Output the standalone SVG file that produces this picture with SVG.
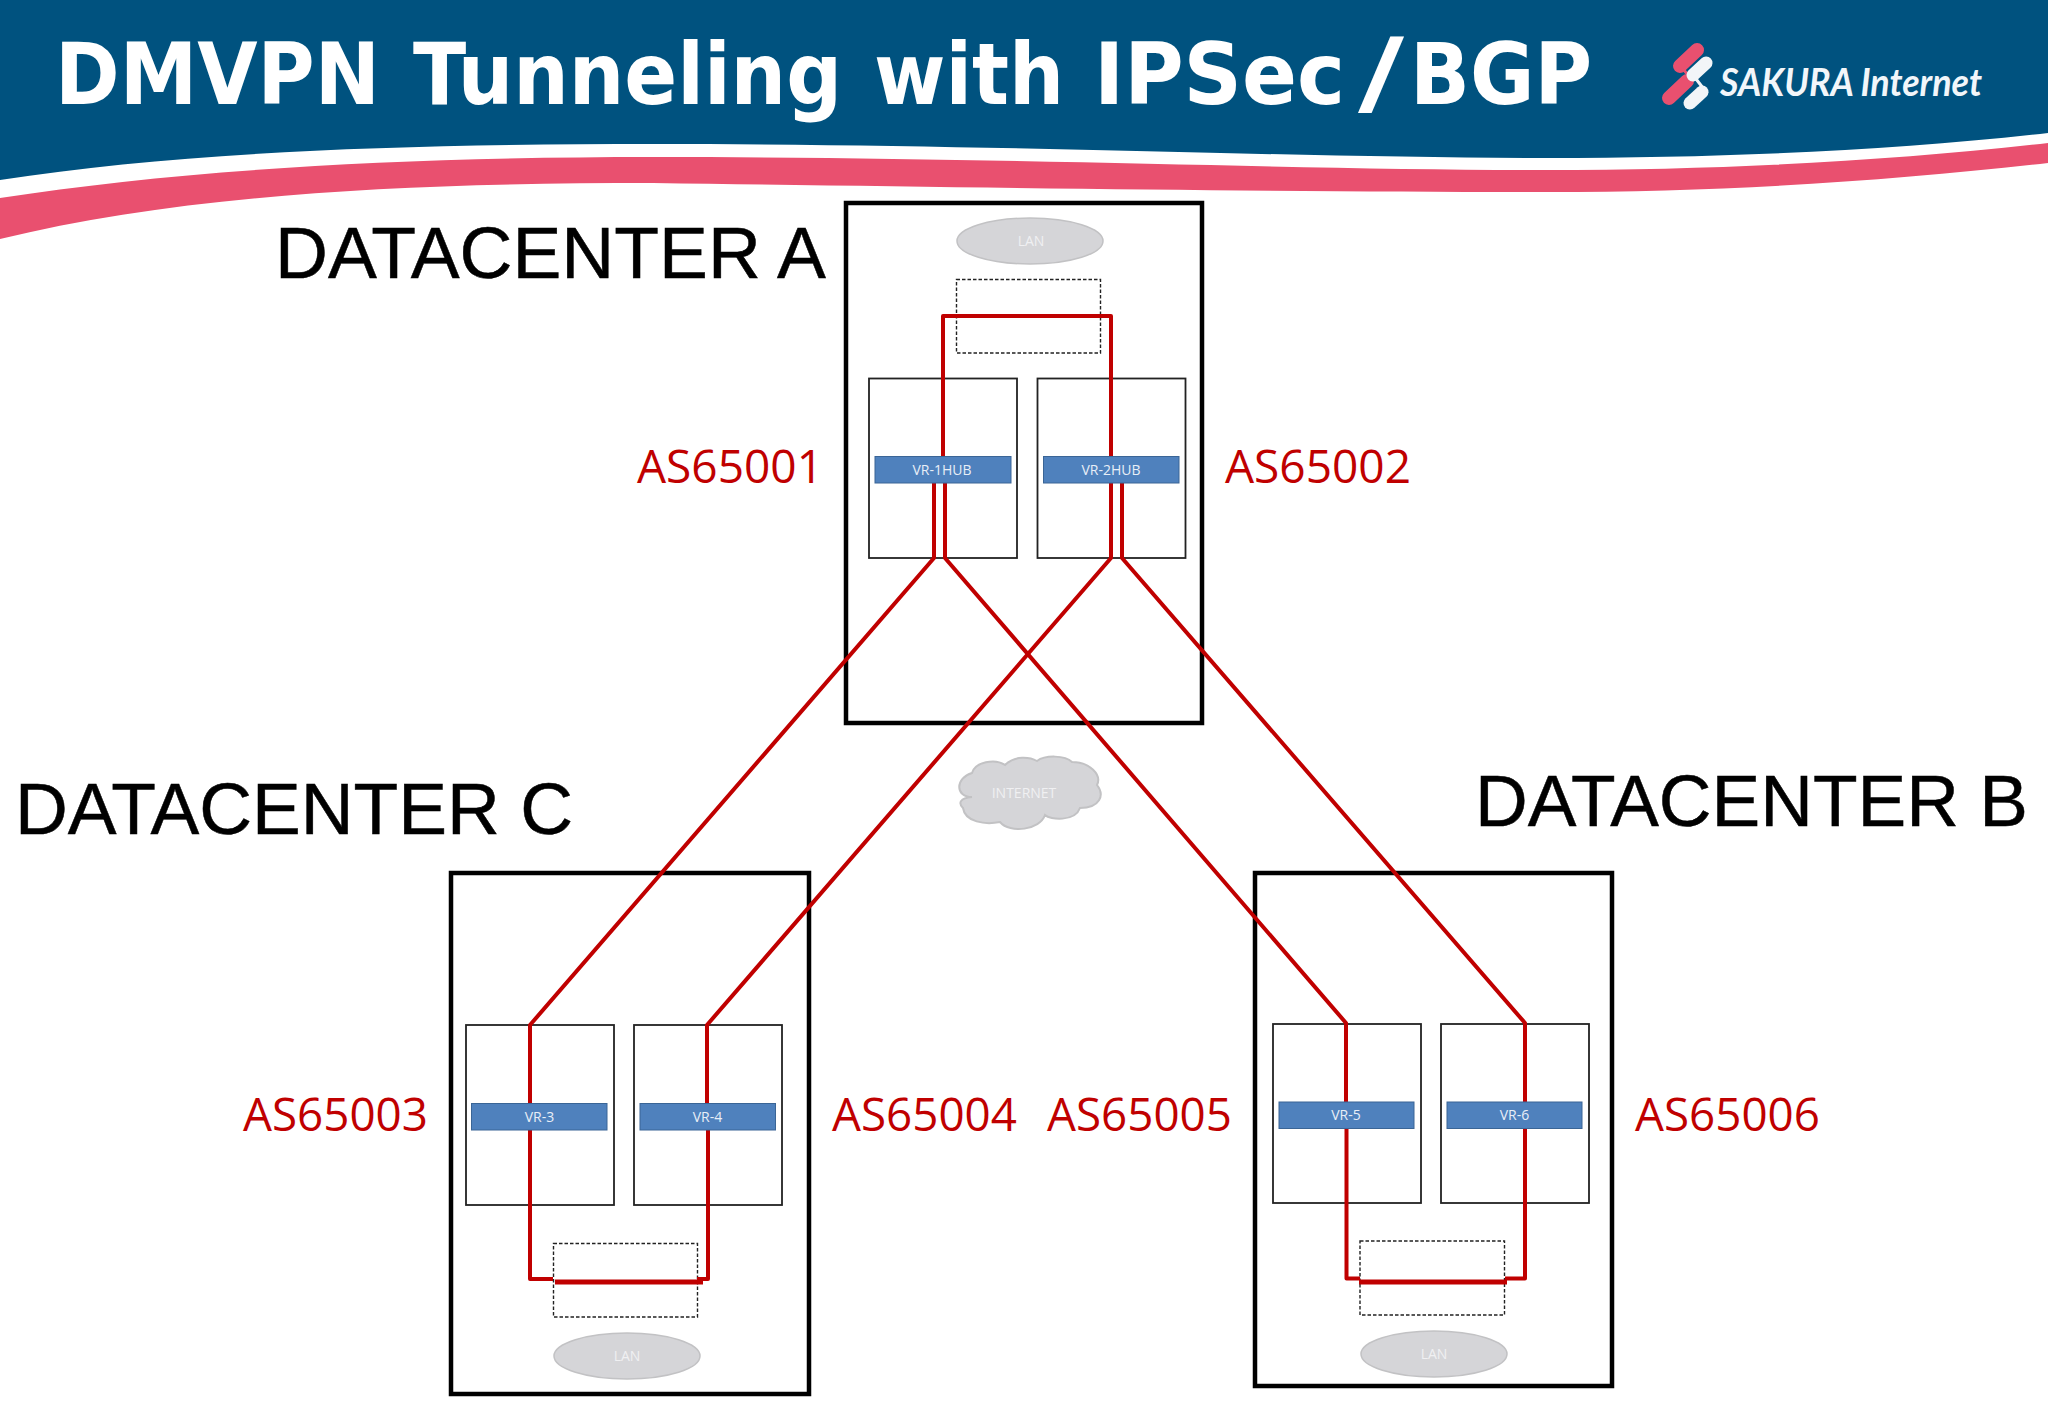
<svg xmlns="http://www.w3.org/2000/svg" width="2048" height="1418" viewBox="0 0 2048 1418">
<style>
.dc{font:73px "Liberation Sans",Arial,sans-serif;fill:#000;stroke:#000;stroke-width:.5}
.as{font:46px "Open Sans","Noto Sans",sans-serif;fill:#c00000}
.outer{fill:#fff;stroke:#000;stroke-width:4.500}
.box{fill:none;stroke:#222;stroke-width:1.800}
.bar{fill:#4f81bd;stroke:#3a6596;stroke-width:1}
.barText{font:14px "Open Sans","Noto Sans",sans-serif;fill:#e8eef7;text-anchor:middle}
.lan{fill:#d5d5d8;stroke:#c2c2c4;stroke-width:1.500}
.lanText{font:14px "Open Sans","Noto Sans",sans-serif;fill:#f0f0f2;text-anchor:middle}
.dash{fill:none;stroke:#222;stroke-width:1.400;stroke-dasharray:3.500 2}
.red{fill:none;stroke:#c00000;stroke-width:4;stroke-linejoin:round}
.redThick{fill:none;stroke:#c00000;stroke-width:5}
.cap{fill:none;stroke-linecap:round;stroke-linejoin:round}
</style>
<rect width="2048" height="1418" fill="#fff"/>
<g id="header">
<path d="M0 0H2048V133C1900 150 1730 158 1546 158C1300 158 1000 144 653 144C400 144 180 152 0 180Z" fill="#00527f"/>
<path d="M0 198C180 170 400 157 653 157C1000 157 1300 170 1546 170C1730 170 1900 160 2048 143V163C1900 180 1730 192 1546 192C1300 192 1000 188 653 183C400 183 180 195 0 239Z" fill="#e9506f"/>
<text y="104" font-family="'DejaVu Sans',Verdana,sans-serif" font-weight="700" font-size="85" fill="#fff" lengthAdjust="spacingAndGlyphs"><tspan x="55" textLength="325" lengthAdjust="spacingAndGlyphs">DMVPN</tspan> <tspan x="413" textLength="429" lengthAdjust="spacingAndGlyphs">Tunneling</tspan> <tspan x="874" textLength="190" lengthAdjust="spacingAndGlyphs">with</tspan> <tspan x="1094" textLength="251" lengthAdjust="spacingAndGlyphs">IPSec</tspan><tspan x="1358" font-size="92" textLength="46" lengthAdjust="spacingAndGlyphs">/</tspan><tspan x="1410" textLength="182" lengthAdjust="spacingAndGlyphs">BGP</tspan></text>
</g>
<g id="logo">
<path class="cap" d="M1697 50L1680 66" stroke="#e9506f" stroke-width="14"/>
<path class="cap" d="M1687 81L1669 98" stroke="#e9506f" stroke-width="14"/>
<path class="cap" d="M1680 66L1692 79" stroke="#e9506f" stroke-width="3"/>
<path class="cap" d="M1706 63L1693 75" stroke="#f2f5f8" stroke-width="13"/>
<path class="cap" d="M1702 92L1690 103" stroke="#f2f5f8" stroke-width="13"/>
<path class="cap" d="M1693 75L1703 88" stroke="#f2f5f8" stroke-width="3"/>
<text x="1720" y="96" font-family="Lato,'Open Sans',sans-serif" font-style="italic" font-weight="700" font-size="39" fill="#f2f6fa" textLength="262" lengthAdjust="spacingAndGlyphs">SAKURA Internet</text>
</g>
<g id="datacenter-a">
<rect class="outer" x="846" y="203" width="356" height="520"/>
<ellipse class="lan" cx="1030" cy="241" rx="73" ry="23"/>
<text class="lanText" x="1031" y="246">LAN</text>
<rect class="dash" x="956.500" y="279.500" width="144" height="73.500"/>
<rect class="box" x="869" y="378.500" width="148" height="179.500"/>
<rect class="box" x="1037.500" y="378.500" width="148" height="179.500"/>
<text class="dc" x="275" y="278" textLength="551" lengthAdjust="spacingAndGlyphs">DATACENTER A</text>
<text class="as" x="637" y="483" textLength="186" lengthAdjust="spacingAndGlyphs">AS65001</text>
<text class="as" x="1225" y="483" textLength="186" lengthAdjust="spacingAndGlyphs">AS65002</text>
</g>
<g id="datacenter-c">
<rect class="outer" x="451" y="873" width="358" height="521"/>
<ellipse class="lan" cx="627" cy="1356" rx="73" ry="23"/>
<text class="lanText" x="627" y="1361">LAN</text>
<rect class="dash" x="553.500" y="1243.500" width="144" height="73.500"/>
<rect class="box" x="466" y="1025" width="148" height="180"/>
<rect class="box" x="634" y="1025" width="148" height="180"/>
<text class="dc" x="15" y="834" textLength="558" lengthAdjust="spacingAndGlyphs">DATACENTER C</text>
<text class="as" x="243" y="1131" textLength="185" lengthAdjust="spacingAndGlyphs">AS65003</text>
<text class="as" x="832" y="1131" textLength="185" lengthAdjust="spacingAndGlyphs">AS65004</text>
</g>
<g id="datacenter-b">
<rect class="outer" x="1255" y="873" width="357" height="513"/>
<ellipse class="lan" cx="1434" cy="1354" rx="73" ry="23"/>
<text class="lanText" x="1434" y="1359">LAN</text>
<rect class="dash" x="1360" y="1241" width="144.500" height="74"/>
<rect class="box" x="1273" y="1024" width="148" height="179"/>
<rect class="box" x="1441" y="1024" width="148" height="179"/>
<text class="dc" x="1475" y="826" textLength="553" lengthAdjust="spacingAndGlyphs">DATACENTER B</text>
<text class="as" x="1047" y="1131" textLength="185" lengthAdjust="spacingAndGlyphs">AS65005</text>
<text class="as" x="1635" y="1131" textLength="185" lengthAdjust="spacingAndGlyphs">AS65006</text>
</g>
<g id="internet">
<path d="M972 773C975 762 995 758 1005 765C1015 755 1030 757 1037 761C1045 755 1065 755 1072 762C1090 762 1102 775 1097 785C1105 795 1100 808 1080 808C1075 822 1050 820 1045 815C1040 830 1010 834 1000 822C985 825 965 822 963 808C958 803 960 798 972 797C955 797 955 778 972 773Z" fill="#d5d5d8" stroke="#c2c2c4" stroke-width="2"/>
<text class="lanText" x="1024" y="798">INTERNET</text>
</g>
<g id="connectors">
<path class="red" d="M943 456V316H1111V456"/>
<path class="red" d="M934 483V558L530 1025V1104"/>
<path class="red" d="M945 483V558L1346 1023V1102"/>
<path class="red" d="M1111 483V558L707 1025V1104"/>
<path class="red" d="M1122 483V558L1525 1023V1102"/>
<path class="red" d="M530 1130V1279H553"/>
<path class="red" d="M708 1130V1279H697"/>
<path class="redThick" d="M555 1282H703"/>
<path class="red" d="M1346.500 1128V1278.500H1360"/>
<path class="red" d="M1525 1128V1278.500H1505"/>
<path class="redThick" d="M1359 1282H1507"/>
</g>
<g id="vr-1hub"><rect class="bar" x="875" y="456.500" width="136" height="26.500"/><text class="barText" x="942" y="474.500">VR-1HUB</text></g>
<g id="vr-2hub"><rect class="bar" x="1043.500" y="456.500" width="135.500" height="26.500"/><text class="barText" x="1111" y="474.500">VR-2HUB</text></g>
<g id="vr-3"><rect class="bar" x="471.500" y="1103.500" width="135.500" height="26.500"/><text class="barText" x="539.500" y="1121.500">VR-3</text></g>
<g id="vr-4"><rect class="bar" x="640" y="1103.500" width="135.500" height="26.500"/><text class="barText" x="707.500" y="1121.500">VR-4</text></g>
<g id="vr-5"><rect class="bar" x="1279" y="1102" width="135" height="26.500"/><text class="barText" x="1346" y="1120">VR-5</text></g>
<g id="vr-6"><rect class="bar" x="1447" y="1102" width="135" height="26.500"/><text class="barText" x="1514.500" y="1120">VR-6</text></g>
</svg>
